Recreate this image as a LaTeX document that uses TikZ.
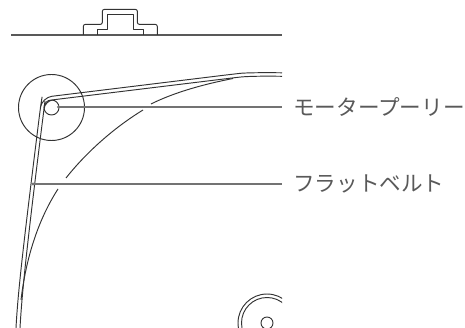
\documentclass[tikz,border=0pt]{standalone}
\usepackage{fontspec}
\newfontfamily\cjk{Noto Sans CJK JP}
\tikzset{
  thin line/.style={draw=black!80,line width=0.95pt,line join=round},
  base line/.style={draw=black!65,line width=1.5pt},
  leader/.style={draw=black!55,line width=1.6pt,shorten >=11pt},
  callout/.style={font=\cjk\fontsize{21.6}{21.6}\selectfont,text=black!65,inner sep=0pt,anchor=west},
}
\begin{document}
\begin{tikzpicture}[x=1pt,y=-1pt]
\useasboundingbox (0,0) rectangle (465,328);
% top bracket
\coordinate (baseL) at (11,35);
\coordinate (baseR) at (282,35);
\draw[base line] (baseL) -- (baseR);
\draw[thin line,rounded corners=2pt] (83.3,35) -- (83.3,24.4) -- (102.3,24.4) -- (102.3,9.4) -- (137.4,9.4) -- (137.4,24.4) -- (157.3,24.4) -- (157.3,35);
\draw[thin line] (97.3,35) -- (97.3,29.3) -- (107.3,29.3) -- (107.3,14) -- (133.4,14) -- (133.4,29.3) -- (143.4,29.3) -- (143.4,35);
% motor pulley
\coordinate (pulley) at (51.5,107.5);
\draw[thin line] (pulley) circle[radius=33];
\draw[thin line] (pulley) circle[radius=7.5];
% belt
\draw[thin line,rounded corners=10pt] (16,328) .. controls (18,290) and (24,240) .. (40.5,107) -- (42,97.5) -- (230,74.5) .. controls (245,72.8) and (262,72.5) .. (282,72.8);
\draw[thin line,rounded corners=8pt] (20,328) .. controls (22,292) and (27.5,240) .. (44,109) -- (45,100.8) -- (232,78) .. controls (247,76.3) and (262,76) .. (282,76.3);
% big reel, broken at the leader lines
\begin{scope}
\clip (0,0) rectangle (282,328);
\draw[thin line] (233,78.5) .. controls (205,84) and (175,92) .. (151,104);
\draw[thin line] (143,110) .. controls (112,129) and (85,154) .. (66,178);
\draw[thin line] (58,189) .. controls (38,220) and (26,258) .. (21,300);
\end{scope}
% small reel
\begin{scope}
\clip (0,0) rectangle (282,328);
\coordinate (reel) at (267,323);
\draw[thin line] (reel) circle[radius=29];
\draw[thin line] (reel) circle[radius=25.5];
\draw[thin line] (reel) circle[radius=6];
\end{scope}
% labels and leaders
\node[callout] (motor) at (293,107) {モータープーリー};
\node[callout] (flat) at (293,184) {フラットベルト};
\coordinate (motorEnd) at (58.5,107);
\coordinate (flatEnd) at (33,184);
\fill[black!55] (motorEnd) circle[radius=1.6];
\fill[black!55] (flatEnd) circle[radius=1.6];
\draw[leader] (motorEnd) -- (motor.west);
\draw[leader] (flatEnd) -- (flat.west);
\end{tikzpicture}
\end{document}
